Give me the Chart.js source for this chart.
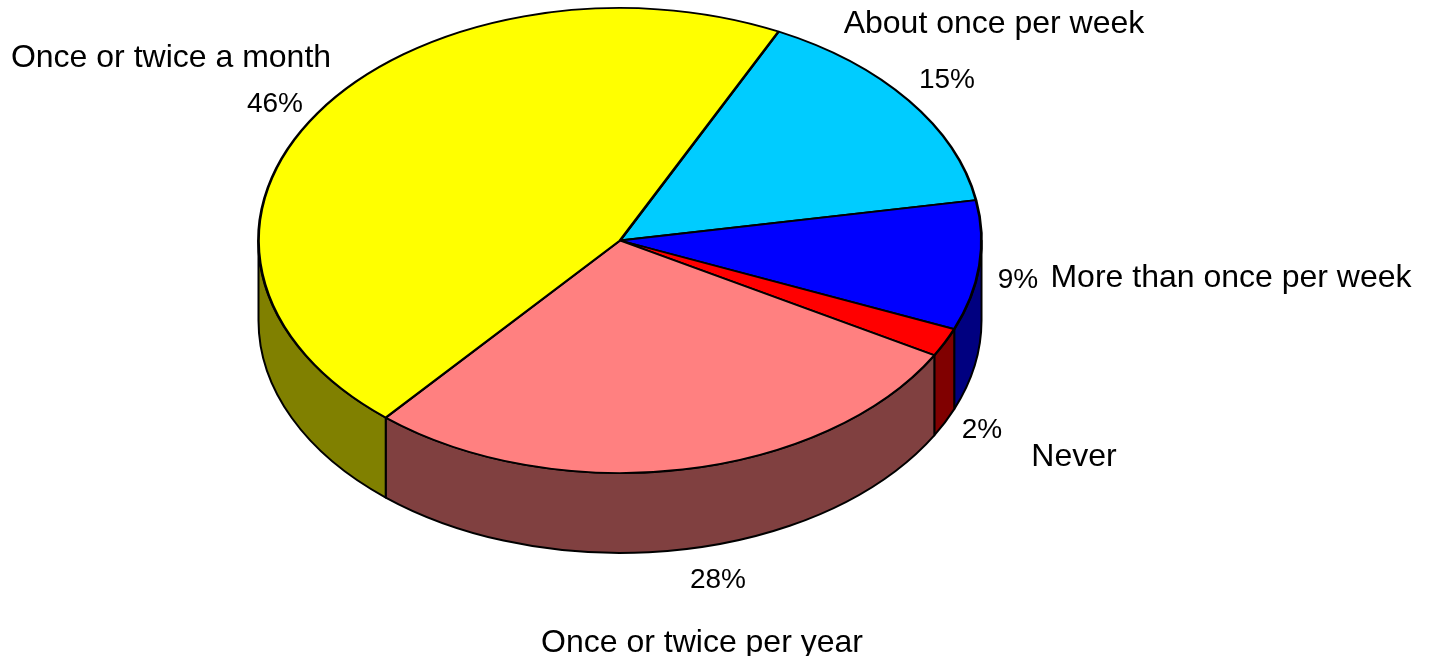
<!DOCTYPE html>
<html>
<head>
<meta charset="utf-8">
<script src="https://cdn.jsdelivr.net/npm/chart.js@4"></script>
<style>
    html, body { margin: 0; padding: 0; background: #ffffff; }
    #wrap { width: 1439px; height: 656px; position: relative; }
</style>
</head>
<body>
<div id="wrap"><canvas id="frequency-chart"></canvas></div>
<script>
const categories = ['About once per week', 'More than once per week', 'Never', 'Once or twice per year', 'Once or twice a month'];
const shares = [15, 9, 2, 28, 46];
const topColors = ['#00CCFF', '#0000FF', '#FF0000', '#FF8080', '#FFFF00'];
const sideColors = ['#008080', '#000080', '#800000', '#804040', '#808000'];

// text anchors (centre x, baseline y) for the name and the percentage of each slice
const nameSpots = [[994, 33], [1231, 287], [1074, 466], [702, 652], [171, 67]];
const pctSpots = [[947, 88], [1018, 288], [982, 438], [718, 588], [275, 112]];

// tilted disc: top ellipse and wall height
const disc = { cx: 620, cy: 240.5, rx: 361.5, ry: 232.5, depth: 80 };

function drawWall(ctx, a, b, color) {
    const { cx, cy, rx, ry, depth } = disc;
    ctx.beginPath();
    ctx.moveTo(cx + rx * Math.cos(a), cy + ry * Math.sin(a));
    ctx.ellipse(cx, cy, rx, ry, 0, a, b);
    ctx.lineTo(cx + rx * Math.cos(b), cy + depth + ry * Math.sin(b));
    ctx.ellipse(cx, cy + depth, rx, ry, 0, b, a, true);
    ctx.closePath();
    ctx.fillStyle = color;
    ctx.fill();
    ctx.stroke();
}

const tiltPlugin = {
    id: 'tilt',
    beforeDatasetsDraw(chart) {
        const ctx = chart.ctx;
        const arcs = chart.getDatasetMeta(0).data;
        ctx.save();
        if (!arcs.length) return;

        // walls: only the front half of the rim (0..PI) faces the viewer
        ctx.save();
        ctx.lineWidth = 2;
        ctx.strokeStyle = '#000000';
        ctx.lineJoin = 'round';
        arcs.forEach((arc, i) => {
            for (let k = -1; k <= 1; k++) {
                const off = k * 2 * Math.PI;
                const a = Math.max(arc.startAngle, off);
                const b = Math.min(arc.endAngle, Math.PI + off);
                if (b > a) drawWall(ctx, a - off, b - off, sideColors[i]);
            }
        });
        ctx.restore();

        // squash the round pie onto the top ellipse
        const r = arcs[0].outerRadius;
        ctx.translate(disc.cx, disc.cy);
        ctx.scale(disc.rx / r, disc.ry / r);
        ctx.translate(-arcs[0].x, -arcs[0].y);
    },
    afterDatasetsDraw(chart) {
        chart.ctx.restore();
    },
    afterDraw(chart) {
        const ctx = chart.ctx;
        ctx.save();
        ctx.fillStyle = '#000000';
        ctx.textAlign = 'center';
        ctx.textBaseline = 'alphabetic';
        categories.forEach((name, i) => {
            ctx.font = '32px "Liberation Sans", Arial, sans-serif';
            ctx.fillText(name, nameSpots[i][0], nameSpots[i][1]);
            ctx.font = '28px "Liberation Sans", Arial, sans-serif';
            ctx.fillText(shares[i] + '%', pctSpots[i][0], pctSpots[i][1]);
        });
        ctx.restore();
    }
};

new Chart(document.getElementById('frequency-chart'), {
    type: 'pie',
    data: {
        labels: categories,
        datasets: [{
            data: shares,
            backgroundColor: topColors,
            borderColor: '#000000',
            borderWidth: 2.5,
            clip: false
        }]
    },
    options: {
        responsive: true,
        maintainAspectRatio: false,
        animation: false,
        events: [],
        rotation: 26,
        layout: { padding: 0 },
        plugins: {
            legend: { display: false },
            tooltip: { enabled: false }
        }
    },
    plugins: [tiltPlugin]
});
</script>
</body>
</html>
